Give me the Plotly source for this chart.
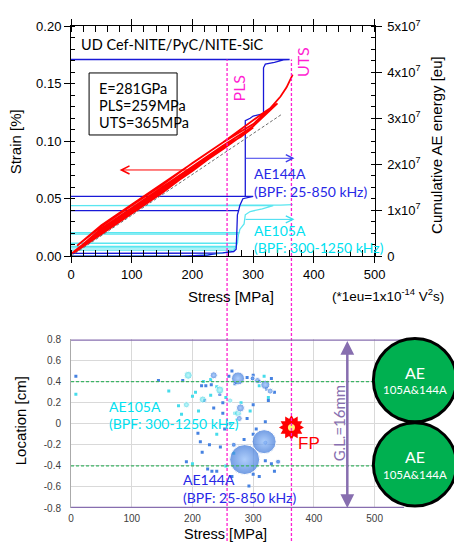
import plotly.graph_objects as go

W, H = 454, 549

# ---------------- data ----------------
# stress-strain with unloading/reloading loops
RED_STRESS = [0, 50, 100, 150, 200, 150, 100, 50, 5,
              50, 100, 150, 200, 250, 200, 150, 100, 50, 5,
              50, 100, 150, 200, 250, 280, 300, 250, 200, 150, 100, 50, 8,
              50, 100, 150, 200, 250, 300, 325, 340, 320, 250, 200, 150, 100, 50, 10,
              50, 100, 150, 200, 250, 300, 325, 345, 355, 365]
RED_STRAIN = [0.002, 0.021, 0.039, 0.057, 0.075, 0.055, 0.037, 0.019, 0.003,
              0.022, 0.040, 0.058, 0.076, 0.094, 0.074, 0.056, 0.038, 0.020, 0.004,
              0.023, 0.041, 0.059, 0.077, 0.095, 0.104, 0.112, 0.093, 0.075, 0.057, 0.039, 0.021, 0.005,
              0.024, 0.042, 0.060, 0.078, 0.096, 0.113, 0.125, 0.133, 0.126, 0.099, 0.081, 0.062, 0.044, 0.026, 0.009,
              0.027, 0.045, 0.063, 0.081, 0.099, 0.115, 0.127, 0.139, 0.147, 0.158]
FIT_STRESS = [0, 347]
FIT_STRAIN = [0.0, 0.1235]

# cumulative AE energy (x1e7 eu)
AE144A_STRESS = [0, 180, 225, 240, 0, 250, 268, 272, 273, 274, 276, 0, 276, 278, 283, 300, 0,
                 287, 287, 295, 300, 310, 317, 317, 320, 335, 350, 360, 0]
AE144A_ENERGY = [0, 0.0, 0.02, 0.06, 0.06, 0.07, 0.1, 0.15, 0.5, 0.9, 0.99, 0.99, 0.99, 1.1, 1.25, 1.3, 1.3,
                 1.3, 2.95, 3.0, 3.05, 3.08, 3.1, 4.1, 4.18, 4.22, 4.27, 4.28, 4.28]
AE105A_STRESS = [0, 190, 230, 255, 265, 0, 268, 270, 0, 271, 272, 0, 272, 274, 0, 274, 275, 276, 0,
                 276, 277, 0, 277, 278, 285, 287, 295, 315, 333, 0, 333, 345, 365]
AE105A_ENERGY = [0, 0.0, 0.03, 0.08, 0.13, 0.13, 0.13, 0.18, 0.18, 0.18, 0.21, 0.21, 0.21, 0.28, 0.28,
                 0.28, 0.4, 0.48, 0.48, 0.48, 0.51, 0.51, 0.51, 0.58, 0.7, 0.9, 0.97, 1.03, 1.1, 1.1,
                 1.1, 1.11, 1.12]

PLS_STRESS = 257
UTS_STRESS = 363
ENERGY_ARROW_STRESS = [285, 368]
AE144A_ARROW_E = 2.13
AE105A_ARROW_E = 0.80
STRAIN_ARROW_STRESS = [200, 80]
STRAIN_ARROW_Y = 0.075

ENERGY_TICKS = [0, 1, 2, 3, 4, 5]
ENERGY_TICKTEXT = ["0", "1x10<sup>7</sup>", "2x10<sup>7</sup>", "3x10<sup>7</sup>",
                   "4x10<sup>7</sup>", "5x10<sup>7</sup>"]
STRAIN_TICKS = [0.0, 0.05, 0.10, 0.15, 0.20]
STRESS_TICKS = [0, 100, 200, 300, 400, 500]
LOC_TICKS = [-0.8, -0.6, -0.4, -0.2, 0, 0.2, 0.4, 0.6, 0.8]
LOC_TICKTEXT = ["-0.8", "-0.6", "-0.4", "-0.2", "0", "0.2", "0.4", "0.6", "0.8"]

# AE source location events
SMALL_BLUE_STRESS = [8, 144, 184, 190, 209, 213, 216, 222, 225, 231, 215, 220, 232, 240, 228, 246, 250,
                     253, 260, 265, 270, 290, 300, 310, 330, 335, 325, 300, 290, 305, 320, 300, 285,
                     268, 320, 330, 300, 310, 335, 265, 245, 235, 250, 293, 341, 299, 322]
SMALL_BLUE_LOC = [0.45, 0.41, 0.41, -0.36, -0.09, -0.17, -0.27, 0.36, -0.43, 0.37, 0.36, 0.22, -0.45,
                  -0.45, -0.2, -0.22, 0.1, -0.05, 0.45, 0.5, 0.38, 0.44, 0.46, 0.4, 0.43, 0.3, 0.22,
                  0.18, 0.05, -0.05, 0.02, -0.1, -0.15, -0.2, -0.35, -0.38, -0.48, -0.5, -0.45, -0.5,
                  0.28, 0.15, 0.2, -0.59, -0.36, 0.43, 0.33]
SMALL_CYAN_STRESS = [8, 161, 177, 182, 200, 205, 218, 230, 240, 255, 262, 270, 280, 295, 310, 318, 325,
                     240, 255, 200, 230, 210, 268]
SMALL_CYAN_LOC = [0.28, 0.31, 0.17, 0.09, 0.26, 0.3, 0.4, 0.27, 0.35, 0.25, 0.0, 0.1, 0.2, 0.12, 0.36,
                  0.45, 0.25, -0.1, -0.4, -0.38, 0.42, 0.12, -0.28]
MID_CYAN_STRESS = [193, 245, 217, 190, 275, 262]
MID_CYAN_LOC = [0.46, 0.32, 0.23, 0.18, 0.10, 0.22]
MID_CYAN_AMP = [8, 8, 7, 6, 7, 5]
MID_BLUE_STRESS = [235, 275, 279, 277, 320, 328, 307, 299, 320, 341, 268]
MID_BLUE_LOC = [0.46, 0.43, 0.15, 0.05, 0.37, 0.31, 0.41, 0.43, -0.18, -0.36, -0.2]
MID_BLUE_AMP = [7, 13, 8, 6, 9, 6, 6, 5, 5, 5, 5]
BIG_BLUE_STRESS = [286, 318]
BIG_BLUE_LOC = [-0.34, -0.17]
BIG_BLUE_AMP = [30, 24]
FP_STRESS = [363]
FP_LOC = [-0.035]
GL_STRESS = 455

# ---------------- helpers ----------------
def px(x):
    return x / W


def py(y):
    return 1 - y / H


ARIAL = "Liberation Sans, Arial, sans-serif"
CALIBRI = "Lato, Carlito, sans-serif"
BLUE = "rgb(25,25,215)"
CYAN = "rgb(90,230,240)"
MAGENTA = "rgb(255,30,210)"
PURPLE = "rgb(135,110,175)"

fig = go.Figure()

# ---- top chart ----
fig.add_trace(go.Scatter(x=AE105A_STRESS, y=AE105A_ENERGY, mode="lines",
                         line=dict(color=CYAN, width=1.3), xaxis="x", yaxis="y"))
fig.add_trace(go.Scatter(x=AE144A_STRESS, y=AE144A_ENERGY, mode="lines",
                         line=dict(color=BLUE, width=1.3), xaxis="x", yaxis="y"))
fig.add_trace(go.Scatter(x=RED_STRESS, y=RED_STRAIN, mode="lines",
                         line=dict(color="rgb(255,0,0)", width=1.8), xaxis="x", yaxis="y2"))
fig.add_trace(go.Scatter(x=FIT_STRESS, y=FIT_STRAIN, mode="lines",
                         line=dict(color="rgb(110,110,110)", width=1, dash="3px,2px"),
                         xaxis="x", yaxis="y2"))

# ---- bottom chart ----
fig.add_trace(go.Scatter(x=SMALL_BLUE_STRESS, y=SMALL_BLUE_LOC, mode="markers",
                         marker=dict(symbol="square", size=3, color="rgb(70,130,225)"),
                         xaxis="x2", yaxis="y3"))
fig.add_trace(go.Scatter(x=SMALL_CYAN_STRESS, y=SMALL_CYAN_LOC, mode="markers",
                         marker=dict(symbol="square", size=3, color="rgb(70,220,235)"),
                         xaxis="x2", yaxis="y3"))
fig.add_trace(go.Scatter(x=MID_CYAN_STRESS, y=MID_CYAN_LOC, mode="markers",
                         marker=dict(size=MID_CYAN_AMP, color="rgb(60,210,225)",
                                     gradient=dict(type="radial", color="rgb(170,245,250)")),
                         xaxis="x2", yaxis="y3"))
fig.add_trace(go.Scatter(x=MID_BLUE_STRESS, y=MID_BLUE_LOC, mode="markers",
                         marker=dict(size=MID_BLUE_AMP, color="rgb(55,115,215)",
                                     gradient=dict(type="radial", color="rgb(140,185,250)")),
                         xaxis="x2", yaxis="y3"))
fig.add_trace(go.Scatter(x=BIG_BLUE_STRESS, y=BIG_BLUE_LOC, mode="markers",
                         marker=dict(size=BIG_BLUE_AMP, color="rgb(55,115,215)",
                                     gradient=dict(type="radial", color="rgb(140,185,250)")),
                         xaxis="x2", yaxis="y3"))
fig.add_trace(go.Scatter(x=FP_STRESS, y=FP_LOC, mode="markers",
                         marker=dict(symbol="hexagram", size=19, color="rgb(255,0,0)"),
                         xaxis="x2", yaxis="y3"))
fig.add_trace(go.Scatter(x=FP_STRESS, y=FP_LOC, mode="markers",
                         marker=dict(symbol="hexagram", size=19, angle=30, color="rgb(255,0,0)"),
                         xaxis="x2", yaxis="y3"))
fig.add_trace(go.Scatter(x=FP_STRESS, y=FP_LOC, mode="markers",
                         marker=dict(symbol="circle", size=7, color="rgb(255,240,120)"),
                         xaxis="x2", yaxis="y3"))

XTOP = [px(69.3), px(383.3)]
XBOT = [px(69.3), px(414)]
bot_xmax = 500 * (414 - 69.3) / (383.3 - 69.3)

axis_font = dict(family=ARIAL, size=13, color="black")
fig.update_layout(
    width=W, height=H, margin=dict(l=0, r=0, t=0, b=0),
    paper_bgcolor="white", plot_bgcolor="rgba(0,0,0,0)", showlegend=False,
    xaxis=dict(domain=XTOP, range=[0, 500], anchor="y", tickvals=STRESS_TICKS,
               ticks="outside", ticklen=6, tickcolor="black", showline=True, linecolor="black",
               linewidth=1, mirror="allticks", showgrid=False, zeroline=False, tickfont=axis_font,
               minor=dict(dtick=20, ticks="inside", ticklen=4, tickcolor="black")),
    yaxis=dict(domain=[py(255), py(18)], range=[0, 5], side="right", anchor="x",
               tickvals=ENERGY_TICKS, ticktext=ENERGY_TICKTEXT, ticks="outside", ticklen=6,
               tickcolor="black", showline=True, linecolor="black", showgrid=False,
               zeroline=False, tickfont=axis_font, ticklabelstandoff=3,
               minor=dict(dtick=0.25, ticks="inside", ticklen=4, tickcolor="black")),
    yaxis2=dict(domain=[py(255), py(18)], range=[0, 0.2], side="left", overlaying="y",
                anchor="x", tickvals=STRAIN_TICKS, tickformat=".2f", ticks="outside", ticklen=6,
                tickcolor="black", showline=True, linecolor="black", showgrid=False,
                zeroline=False, tickfont=axis_font,
                minor=dict(dtick=0.01, ticks="inside", ticklen=4, tickcolor="black")),
    xaxis2=dict(domain=XBOT, range=[0, bot_xmax], anchor="y3", tickvals=STRESS_TICKS,
                showgrid=True, gridcolor="rgb(217,217,217)", gridwidth=1, zeroline=False,
                showline=False, ticks="", ticklabelstandoff=3,
                tickfont=dict(family=ARIAL, size=10, color="rgb(64,64,64)")),
    yaxis3=dict(domain=[py(515), py(341)], range=[-0.8, 0.8], anchor="x2",
                tickvals=LOC_TICKS, ticktext=LOC_TICKTEXT, showgrid=True,
                gridcolor="rgb(217,217,217)", gridwidth=1, zeroline=False, showline=True,
                linecolor="rgb(170,170,170)", ticks="", ticklabelstandoff=7,
                tickfont=dict(family=ARIAL, size=10, color="rgb(64,64,64)")),
)

shapes = []
# PLS / UTS dashed lines spanning both charts
for s in (PLS_STRESS, UTS_STRESS):
    shapes.append(dict(type="line", xref="x", yref="paper", x0=s, x1=s, y0=0, y1=py(52),
                       line=dict(color=MAGENTA, width=1.3, dash="3px,2px")))
# parameter box
shapes.append(dict(type="rect", xref="paper", yref="paper", x0=px(88), x1=px(179),
                   y0=py(130), y1=py(66), line=dict(color="black", width=1)))
# gauge boundaries and sensor lines (bottom)
for v in (0.8, -0.8):
    shapes.append(dict(type="line", xref="x2", yref="y3", x0=0, x1=bot_xmax, y0=v, y1=v,
                       line=dict(color=PURPLE, width=2.5)))
for v in (0.4, -0.4):
    shapes.append(dict(type="line", xref="x2", yref="y3", x0=0, x1=bot_xmax, y0=v, y1=v,
                       line=dict(color="rgb(60,180,100)", width=1.2, dash="3px,2px")))
# sensors (green circles)
for cy in (383, 470):
    shapes.append(dict(type="circle", xref="paper", yref="paper", x0=px(382), x1=px(468),
                       y0=py(cy + 43), y1=py(cy - 43), fillcolor="rgb(0,176,80)",
                       line=dict(color="black", width=3), layer="above"))
fig.update_layout(shapes=shapes)

ann = []


def text(x, y, t, size=14, color="black", family=CALIBRI, xanchor="left", angle=0, yanchor="middle"):
    ann.append(dict(xref="paper", yref="paper", x=px(x), y=py(y), text=t, showarrow=False,
                    xanchor=xanchor, yanchor=yanchor, textangle=angle,
                    font=dict(family=family, size=size, color=color)))


text(78, 37, "UD Cef-NITE/PyC/NITE-SiC", 14.5)
text(96, 82, "E=281GPa", 14.5)
text(96, 99.5, "PLS=259MPa", 14.5)
text(96, 117.5, "UTS=365MPa", 14.5)
text(12, 137, "Strain [%]", 15, family=ARIAL, xanchor="center", angle=-90)
text(447, 140, "Cumulative AE energy [eu]", 15, family=ARIAL, xanchor="center", angle=-90)
text(235, 297, "Stress [MPa]", 15, family=ARIAL, xanchor="center")
text(457, 295, "(*1eu=1x10<sup>-14</sup> V<sup>2</sup>s)", 13.5, family=ARIAL, xanchor="right")
text(242, 82, "PLS", 16, color=MAGENTA, xanchor="center", angle=-90)
text(308, 55, "UTS", 16, color=MAGENTA, xanchor="center", angle=-90)
text(256, 170, "AE144A", 14, color="rgb(40,40,230)")
text(256, 188, "(BPF: 25-850 kHz)", 14, color="rgb(40,40,230)")
text(256, 229, "AE105A", 14, color="rgb(0,225,240)")
text(256, 246.5, "(BPF: 300-1250 kHz)", 14, color="rgb(0,225,240)")
# bottom texts
text(107, 410, "AE105A", 14, color="rgb(0,225,240)")
text(107, 428, "(BPF: 300-1250 kHz)", 14, color="rgb(0,225,240)")
text(183, 486, "AE144A", 14, color="rgb(40,40,230)")
text(183, 504, "(BPF: 25-850 kHz)", 14, color="rgb(40,40,230)")
text(17, 425, "Location [cm]", 15, family=ARIAL, xanchor="center", angle=-90)
text(229, 552, "Stress [MPa]", 14.5, family=ARIAL, xanchor="center", yanchor="bottom")
text(346, 427, "G.L.=16mm", 15, color=PURPLE, xanchor="center", angle=-90)
text(302, 448, "FP", 17, color="rgb(255,0,0)", family=ARIAL)
for cy in (383, 470):
    text(425, cy - 8, "AE", 16, color="white", xanchor="center")
    text(425, cy + 10, "105A&144A", 11.5, color="white", xanchor="center")

# arrows
ann.append(dict(x=STRAIN_ARROW_STRESS[1], y=STRAIN_ARROW_Y, xref="x", yref="y2",
                ax=STRAIN_ARROW_STRESS[0], ay=STRAIN_ARROW_Y, axref="x", ayref="y2",
                text="", showarrow=True, arrowhead=5, arrowsize=1.6, arrowwidth=1,
                arrowcolor="rgb(255,0,0)"))
ann.append(dict(x=ENERGY_ARROW_STRESS[1], y=AE144A_ARROW_E, xref="x", yref="y",
                ax=ENERGY_ARROW_STRESS[0], ay=AE144A_ARROW_E, axref="x", ayref="y",
                text="", showarrow=True, arrowhead=5, arrowsize=1.4, arrowwidth=1,
                arrowcolor="rgb(60,60,235)"))
ann.append(dict(x=ENERGY_ARROW_STRESS[1], y=AE105A_ARROW_E, xref="x", yref="y",
                ax=ENERGY_ARROW_STRESS[0], ay=AE105A_ARROW_E, axref="x", ayref="y",
                text="", showarrow=True, arrowhead=5, arrowsize=1.4, arrowwidth=1,
                arrowcolor="rgb(60,220,240)"))
ann.append(dict(x=GL_STRESS, y=-0.8, xref="x2", yref="y3", ax=GL_STRESS, ay=0.8,
                axref="x2", ayref="y3", text="", showarrow=True, arrowhead=2, arrowsize=1.1,
                arrowwidth=2.5, arrowside="end+start", arrowcolor=PURPLE))
fig.update_layout(annotations=ann)

fig.write_html("out.html")
